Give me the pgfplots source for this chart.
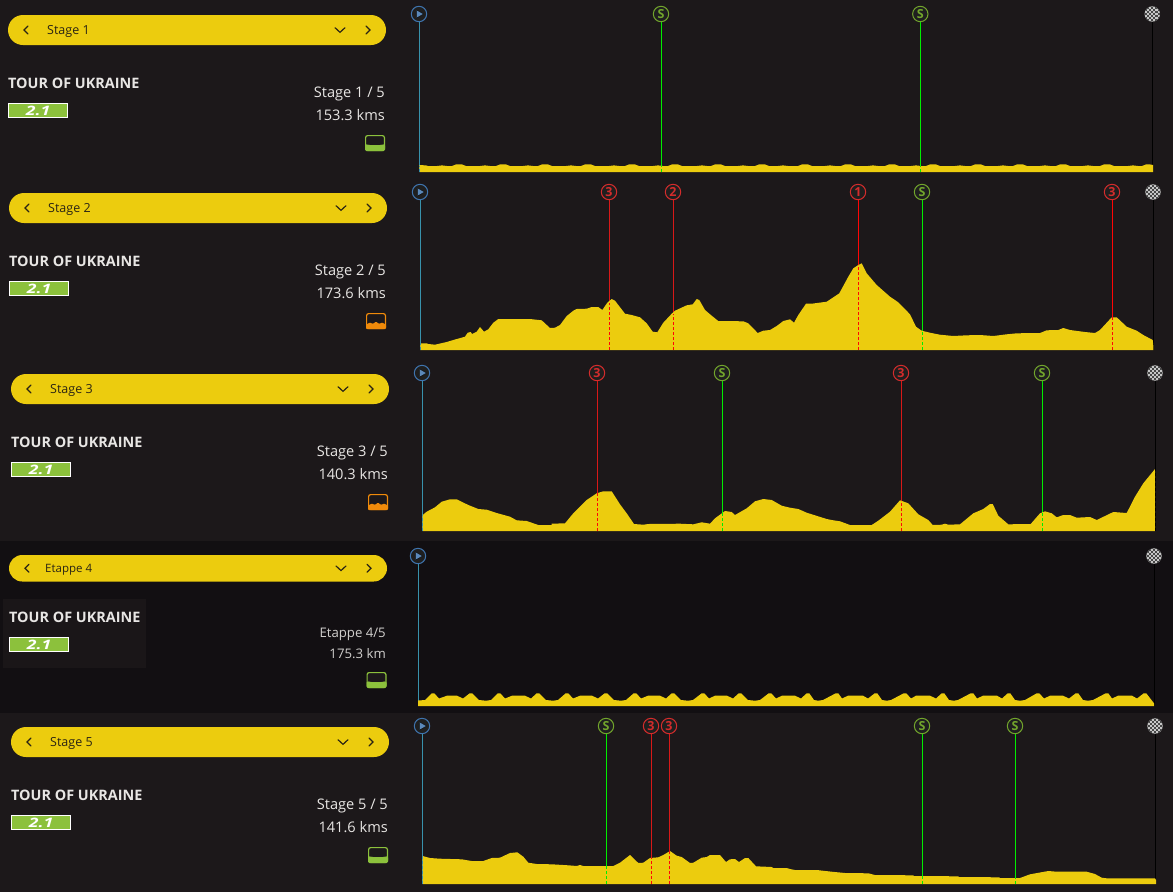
\documentclass[border=0pt]{standalone}
\usepackage{fontspec}
\setmainfont{Open Sans}
\usepackage{pgfplots}
\pgfplotsset{compat=1.18}
\definecolor{bgA}{HTML}{1C181A}
\definecolor{bgB}{HTML}{120F12}
\definecolor{boxB}{HTML}{1A1618}
\definecolor{yel}{HTML}{ECCC0E}
\definecolor{gr}{HTML}{8CC13C}
\definecolor{org}{HTML}{F08A0A}
\definecolor{txt}{HTML}{E8E6E4}
\definecolor{ink}{HTML}{2A2414}
\definecolor{teal}{HTML}{3892AC}
\definecolor{blu}{HTML}{3F74AE}
\definecolor{redA}{HTML}{D81818}
\definecolor{redB}{HTML}{FF0505}
\definecolor{grn}{HTML}{00EE00}
\definecolor{redI}{HTML}{D42C2C}
\definecolor{grnI}{HTML}{72A52C}
\pgfdeclareplotmark{checker}{%
  \pgfpathcircle{\pgfpointorigin}{7.7pt}\pgfsetfillcolor{gray!45!white}\pgfusepath{fill}%
  \begin{pgfscope}%
  \pgfpathcircle{\pgfpointorigin}{7.7pt}\pgfusepath{clip}%
  \pgfsetfillcolor{black!72}%
  \foreach \i in {-4,...,4}{\foreach \j in {-4,...,4}{%
    \ifodd\numexpr\i+\j+10\relax
      \pgfpathrectangle{\pgfpoint{\i*2.1pt-1.05pt}{\j*2.1pt-1.05pt}}{\pgfpoint{2.1pt}{2.1pt}}\pgfusepath{fill}%
    \fi}}%
  \end{pgfscope}}
% left-hand panel pieces (pixel coordinates, y downwards)
\newcommand{\pill}[6]{% x, y top, height, label, label x offset, font size
  \fill[yel,rounded corners=#3*0.5pt-0.01pt] (#1pt,-#2pt) rectangle ({#1pt+378pt},{-#2pt-#3pt});
  \node[anchor=base west,inner sep=0pt,text=ink,font=\fontsize{#6}{#6}\selectfont] at ({#1pt+#5pt},{-#2pt-#3*0.5pt-4.4pt}) {#4};
  \begin{scope}[shift={(#1pt,{-#2pt-#3*0.5pt})},draw=ink,line width=1.2pt,line cap=round]
    \draw (20pt,4pt)--(16pt,0pt)--(20pt,-4pt);
    \draw (327pt,2.3pt)--(332pt,-2.3pt)--(337pt,2.3pt);
    \draw (358pt,4pt)--(362pt,0pt)--(358pt,-4pt);
  \end{scope}}
\newcommand{\titleblock}[2]{% x, y centre of title
  \node[anchor=west,inner sep=0pt,text=txt,font=\fontsize{14.4}{14.4}\selectfont\bfseries] at (#1pt,-#2pt) {TOUR OF UKRAINE};
  \begin{scope}[shift={(#1pt,-#2pt)}]
    \fill[gr,draw=white,line width=1pt] (0.5pt,-20.5pt) rectangle (59.5pt,-34.5pt);
    \node[text=white,inner sep=0pt,font=\fontsize{13}{13}\selectfont\bfseries\itshape,xscale=1.35] at (30pt,-27.5pt) {2.1};
  \end{scope}}
\newcommand{\flaticon}[2]{% right x, y top (green: flat profile)
  \begin{scope}[shift={(#1pt,-#2pt)}]
    \fill[bgA,draw=gr,line width=1.2pt,rounded corners=2pt] (-19.4pt,-0.6pt) rectangle (-0.6pt,-15.4pt);
    \fill[gr,rounded corners=1.5pt] (-20pt,-9pt) .. controls (-15pt,-10.5pt) and (-5pt,-10.5pt) .. (0pt,-9pt) -- (0pt,-16pt) -- (-20pt,-16pt) -- cycle;
  \end{scope}}
\newcommand{\hillicon}[2]{% right x, y top (orange: hilly profile)
  \begin{scope}[shift={(#1pt,-#2pt)}]
    \fill[bgA,draw=org,line width=1.2pt,rounded corners=2pt] (-19.4pt,-0.6pt) rectangle (-0.6pt,-15.4pt);
    \fill[org,rounded corners=1pt] (-20pt,-11.5pt) -- (-16pt,-9.5pt) -- (-13pt,-11pt) -- (-10pt,-8.5pt) -- (-7pt,-11pt) -- (-4pt,-9.5pt) -- (0pt,-11.5pt) -- (0pt,-16pt) -- (-20pt,-16pt) -- cycle;
  \end{scope}}
\newcommand{\infotext}[5]{% right x, y1, y2, text1, text2
  \node[anchor=base east,inner sep=0pt,text=txt,font=\fontsize{14.6}{14.6}\selectfont] at (#1pt,-#2pt-5pt) {#4};
  \node[anchor=base east,inner sep=0pt,text=txt,font=\fontsize{14.6}{14.6}\selectfont] at (#1pt,-#3pt-5pt) {#5};}
% axis pieces
\newcommand{\solid}[3]{\addplot[#3,line width=1pt,forget plot] coordinates {(#1,0) (#1,#2)};}
\newcommand{\dash}[3]{\addplot[#3,line width=1pt,dash pattern=on 3pt off 2pt,forget plot] coordinates {(#1,0) (#1,#2)};}
\newcommand{\badge}[4]{\addplot[only marks,mark=*,mark size=7.7pt,forget plot,
    mark options={fill=black!88,draw=#3,line width=1pt},
    nodes near coords={#4},
    every node near coord/.style={anchor=center,inner sep=0pt,text=#3,yshift=0.3pt,font=\fontsize{12.5}{12.5}\selectfont\bfseries}]
    coordinates {(#1,#2)};}
\newcommand{\startmk}[2]{\addplot[only marks,mark=*,mark size=7.7pt,forget plot,mark options={fill=black!88,draw=blu,line width=1pt}] coordinates {(#1,#2)};
  \addplot[only marks,mark=triangle*,mark size=4.6pt,forget plot,mark options={fill=blu!85!white,draw=none,rotate=-90}] coordinates {(#1,#2)};}
\newcommand{\finishmk}[2]{\addplot[only marks,mark=checker,forget plot] coordinates {(#1,#2)};}
\pgfplotsset{profile/.style={scale only axis,hide axis,clip=false,xmin=410,xmax=1173,ymin=0,width=763pt,anchor=south west}}
\begin{document}
\begin{tikzpicture}[x=1pt,y=1pt]
\fill[white] (0,0) rectangle (1173,-895);
\fill[bgA] (0,0) rectangle (1173,-892);
\fill[bgB] (0,-541) rectangle (1173,-713);
\fill[boxB] (3,-599) rectangle (146,-668);
% panels
\pill{8}{15}{30}{Stage 1}{39}{12.5}
\titleblock{8}{83}
\infotext{385}{92}{115}{Stage 1 / 5}{153.3 kms}
\flaticon{385}{135}
\pill{9}{193}{30}{Stage 2}{39}{12.5}
\titleblock{9}{261}
\infotext{386}{270}{293}{Stage 2 / 5}{173.6 kms}
\hillicon{386}{313}
\pill{11}{374}{30}{Stage 3}{39}{12.5}
\titleblock{11}{442}
\infotext{388}{451}{474}{Stage 3 / 5}{140.3 kms}
\hillicon{388}{494}
\pill{9}{555}{26.5}{Etappe 4}{36}{11.5}
\titleblock{9}{617}
\node[anchor=base east,inner sep=0pt,text=txt!90!black,font=\fontsize{13.2}{13.2}\selectfont] at (386pt,-637pt) {Etappe 4/5};
\node[anchor=base east,inner sep=0pt,text=txt!90!black,font=\fontsize{13.2}{13.2}\selectfont] at (386pt,-658pt) {175.3 km};
\flaticon{386.5}{672}
\pill{11}{727}{30}{Stage 5}{39}{12.5}
\titleblock{11}{795}
\infotext{388}{804}{827}{Stage 5 / 5}{141.6 kms}
\flaticon{388}{847}
% Stage 1
\begin{axis}[profile,at={(410pt,-172pt)},ymax=158,height=158pt]
\solid{419.5}{150}{teal}\solid{661.3}{150}{grn}\solid{920.3}{150}{grn}\solid{1152.3}{150}{black}
\addplot[fill=yel,draw=none] table {
419.3 7
426 6.6
428 6
437 6
442 6.6
447 6
452 6
456 7.6
462 7.6
466 6
480 6
485 6.6
490 6
496 6
500 7.6
506 7.6
510 6
523 6
528 6.6
533 6
538 6
542 7.6
548 7.6
552 6
566 6
571 6.6
576 6
581 6
585 7.6
591 7.6
595 6
609 6
614 6.6
619 6
625 6
629 7.6
635 7.6
639 6
653 6
658 6.6
663 6
668 6
672 7.6
678 7.6
682 6
697 6
702 6.6
707 6
711 6
715 7.6
721 7.6
725 6
738 6
743 6.6
748 6
755 6
759 7.6
765 7.6
769 6
778 6
783 6.6
788 6
798 6
802 7.6
808 7.6
812 6
825 6
830 6.6
835 6
841 6
845 7.6
851 7.6
855 6
868 6
873 6.6
878 6
885 6
889 7.6
895 7.6
899 6
911 6
916 6.6
921 6
926 6
930 7.6
936 7.6
940 6
955 6
960 6.6
965 6
971 6
975 7.6
981 7.6
985 6
998 6
1003 6.6
1008 6
1013 6
1017 7.6
1023 7.6
1027 6
1040 6
1045 6.6
1050 6
1056 6
1060 7.6
1066 7.6
1070 6
1083 6
1088 6.6
1093 6
1100 6
1104 7.6
1110 7.6
1114 6
1128 6
1133 6.6
1138 6
1142 6
1146 7.6
1150 7.6
1153 7
} \closedcycle;
\dash{419.5}{6}{teal}\dash{661.3}{6}{grn}\dash{920.3}{6}{grn}
\startmk{419}{158}\badge{661}{158}{grnI}{S}\badge{920.3}{158}{grnI}{S}\finishmk{1152.3}{158}
\end{axis}
% Stage 2
\begin{axis}[profile,at={(410pt,-350pt)},ymax=158,height=158pt]
\solid{420.3}{150}{teal}\solid{609.3}{150}{redA}\solid{673.3}{150}{redA}\solid{858.3}{150}{redB}\solid{922.3}{150}{grn}\solid{1112.3}{150}{redB}\solid{1153.3}{150}{black}
\addplot[fill=yel,draw=none] table {
420.3 6.7
426.7 6.7
428.3 6
435 5.3
446.7 8
453.3 10
465 13.3
467.7 17.3
470.7 18
472 16
476.7 18.3
480 23
484 18.3
488.3 20.7
493.3 27.3
498.3 31
530 31
541.7 29.7
550 22
555 22.3
560 25
566.7 34
573.3 39.3
576.7 41
586.7 41.3
591.7 43
598.3 43
602.3 40
607.3 47.3
611.7 51
615 49.3
625 36.3
631.7 35
640 32.7
646.7 26.7
652.7 18.3
657.3 17.7
663.3 27.3
671.7 36.3
675 39.3
686.7 44.7
692.7 45.7
696.7 51
699.3 50
705 40
711.7 34.3
718.3 29
743.3 28.7
748.3 26.7
757.7 17
763.3 19.3
770 20
776.7 24
783.3 29
790 30.7
794 27.3
798.3 35
806 46.3
811.7 46.3
826.7 48.3
839.3 56.7
848.3 73.3
853.3 81.7
858.3 85
861.7 86.7
866.7 76.7
876.7 65
890 53.3
898.3 47.7
910 35.7
916 23.3
921.7 19.3
930 17.3
940 15.3
953.3 14
966.7 14.7
980 15
993.3 14
1006.7 15.7
1016.7 16.7
1040 17
1046.7 19.7
1058.3 20
1063.3 22
1070 20
1085 18
1095 17
1100 20
1111.7 32.7
1116.7 32.7
1126.7 23.3
1136.7 19.3
1143.3 15
1152.7 10
1153.3 4.3
} \closedcycle;
\dash{420.3}{6.7}{teal}\dash{609.3}{47}{redB}\dash{673.3}{36}{redB}\dash{858.3}{85}{redB}\dash{922.3}{19}{grn}\dash{1112.3}{33}{redB}
\startmk{420}{158}\badge{609}{158}{redI}{3}\badge{673}{158}{redI}{2}\badge{858}{158}{redI}{1}\badge{922}{158}{grnI}{S}\badge{1112}{158}{redI}{3}\finishmk{1153}{158}
\end{axis}
% Stage 3
\begin{axis}[profile,at={(410pt,-531pt)},ymax=158,height=158pt]
\solid{422.3}{150}{teal}\solid{597.3}{150}{redA}\solid{722.3}{150}{grn}\solid{901.3}{150}{redA}\solid{1042.3}{150}{grn}\solid{1155.3}{150}{black}
\addplot[fill=yel,draw=none] table {
422.7 16
426.7 19.3
435 23.7
441.7 29.3
450 31.7
456.7 31.7
468.3 26
478.3 22
486.7 21.3
496.7 18
510 14.3
516.7 10.7
526.7 10
538.3 6
551.7 6
551.7 7.3
565 7.7
573.3 17.7
586.7 31
596.7 37.7
603.3 39.7
611.7 39.7
620 26.7
626.7 17.7
634 7
643.3 6.3
648.3 7
680 7.3
693.3 6.7
701.7 8.7
710 7.3
715 12.7
725 20
731.7 19
735 16
746.7 22.7
755 29.7
763.3 32
771.7 31
781.7 25.3
790 23.3
798.3 22
806.7 18.3
826.7 12
833.3 10.7
840 9.7
850 6
871.7 6
878.3 10.3
890 19.3
900 30.7
908.3 27.7
918.3 16.7
928.3 11
932.7 6
941.7 6.3
945 7.3
948.3 6.3
960 6.7
973.3 17.7
983.3 22
990 27
992.7 27
998.3 15.3
1008.3 6.7
1030.7 7
1040 17.7
1045 19.7
1051.7 17.7
1056.7 13.7
1063.3 16
1070 16
1076.7 13.3
1090 14
1096.7 11
1105 15
1113.3 19
1126.7 18
1135 34.3
1143.3 47.7
1155 62
} \closedcycle;
\dash{422.3}{16}{teal}\dash{597.3}{38}{redB}\dash{722.3}{18}{grn}\dash{901.3}{30}{redB}\dash{1042.3}{20}{grn}\dash{1155.3}{62}{black}
\startmk{422}{158}\badge{597}{158}{redI}{3}\badge{722}{158}{grnI}{S}\badge{901}{158}{redI}{3}\badge{1042}{158}{grnI}{S}\finishmk{1155}{158}
\end{axis}
% Stage 4
\begin{axis}[profile,at={(410pt,-706pt)},ymax=150,height=150pt]
\solid{418.3}{142}{teal}\solid{1154.8}{142}{black}
\addplot[fill=yel,draw=none] table {
418.2 5.5
425 6
431.7 12.7
434.3 12.7
439 7.5
447 10.3
457 10.3
463 7.5
469.7 12.7
472.3 12.7
479 6
486 5.3
491 6
497.7 12.7
500.3 12.7
505 7.5
512 10.3
525 10.3
531 7.5
536.7 12.7
539.3 12.7
546 6
553 5.3
558 6
565.7 12.7
568.3 12.7
573 7.5
580 10.3
592 10.3
598 7.5
604.7 12.7
607.3 12.7
614 6
621 5.3
626 6
633.7 12.7
636.3 12.7
641 7.5
648 10.3
660 10.3
666 7.5
671.7 12.7
674.3 12.7
681 6
688 5.3
693 6
701.7 12.7
704.3 12.7
709 7.5
715 10.3
727 10.3
733 7.5
738.7 12.7
741.3 12.7
748 6
755 5.3
760 6
768.7 12.7
771.3 12.7
776 7.5
782 10.3
795 10.3
801 7.5
806.7 12.7
809.3 12.7
814 6
818 5.3
823 6
835.7 12.7
838.3 12.7
842 7.5
848 10.3
863 10.3
868 7.5
874.7 12.7
877.3 12.7
882 6
887 5.3
891 6
903.7 12.7
906.3 12.7
911 7.5
916 10.3
930 10.3
936 7.5
941.7 12.7
944.3 12.7
949 6
954 5.3
958 6
970.7 12.7
973.3 12.7
977 7.5
983 10.3
997 10.3
1002 7.5
1007.7 12.7
1010.3 12.7
1015 6
1020 5.3
1025 6
1036.7 12.7
1039.3 12.7
1044 7.5
1050 10.3
1063 10.3
1069 7.5
1075.7 12.7
1078.3 12.7
1083 6
1088 5.3
1093 6
1105.7 12.7
1108.3 12.7
1112 7.5
1118 10.3
1132 10.3
1137 7.5
1143.7 12.7
1146.3 12.7
1154 2.7
} \closedcycle;
\startmk{418}{150}\finishmk{1154}{150}
\end{axis}
% Stage 5
\begin{axis}[profile,at={(410pt,-884pt)},ymax=158,height=158pt]
\solid{422.3}{150}{teal}\solid{606.3}{150}{grn}\solid{651.3}{150}{redA}\solid{669.3}{150}{redA}\solid{922.3}{150}{grn}\solid{1015.3}{150}{grn}\solid{1155.3}{150}{black}
\addplot[fill=yel,draw=none] table {
422.7 28
430 26
440 25.3
461.7 24.7
471.7 23
483.3 23
491.7 26
500 26.3
510 31
517.3 31.7
523.3 27.3
528.3 21.3
536.7 20
551.7 19.7
568.3 18.7
576.7 18
580 19
583.3 18
613.3 18
620 21.3
630 29
638.3 21
643.3 21.3
650 26
658.3 26.7
663.3 29
670 33
676.7 28.3
681.7 27
690 21
693.3 21.3
701.7 26.3
706.7 27
710 29
720 29
726 22
730 24.7
735 25
739 22
745 26
748.3 26
756 17.7
771.7 17
773.3 16
786.7 16
790 15
795 14
816.7 14
831.7 12.3
845 11
868.3 10.7
875 9
913.3 8.7
914 8
958.3 7.7
959 7
999.3 6.7
1000 6
1020 6
1030 9.7
1048.3 13
1056.7 12.3
1086.7 12.3
1095 10
1101.7 6.3
1106.7 5.7
1155 5.7
1156 4
} \closedcycle;
\dash{422.3}{28}{teal}\dash{606.3}{18}{grn}\dash{651.3}{26}{redB}\dash{669.3}{33}{redB}\dash{922.3}{8}{grn}\dash{1015.3}{6}{grn}
\startmk{422}{158}\badge{606}{158}{grnI}{S}\badge{651}{158}{redI}{3}\badge{669}{158}{redI}{3}\badge{922}{158}{grnI}{S}\badge{1015}{158}{grnI}{S}\finishmk{1155}{158}
\end{axis}
\end{tikzpicture}
\end{document}
